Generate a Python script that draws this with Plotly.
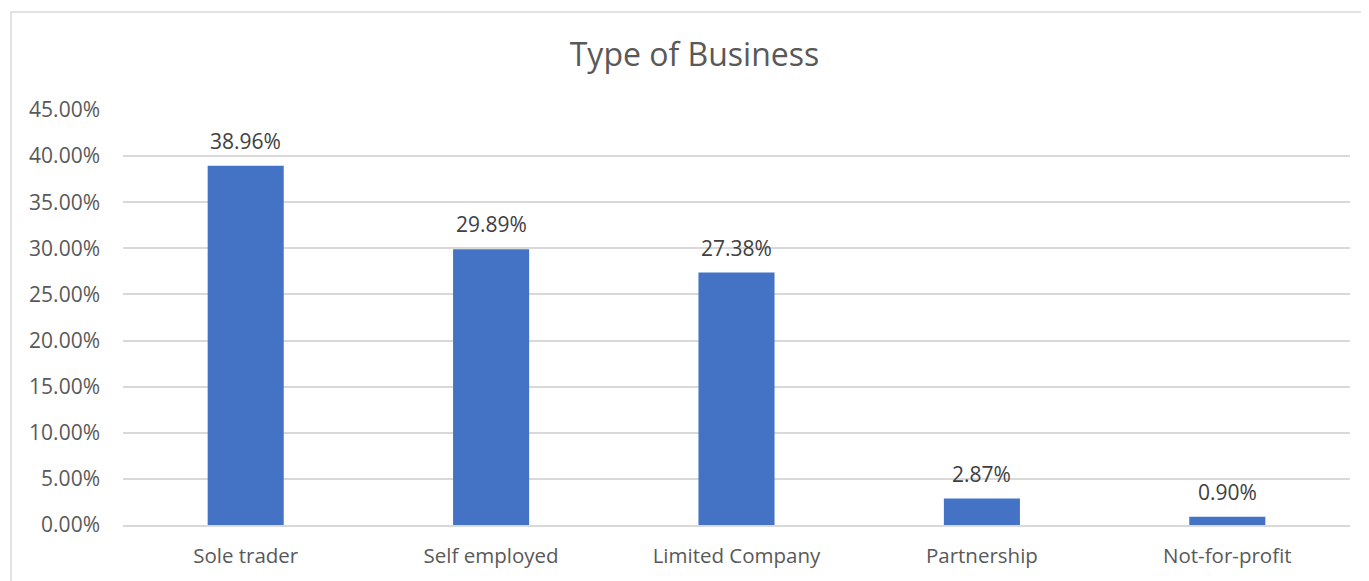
import plotly.graph_objects as go

categories = ["Sole trader", "Self employed", "Limited Company", "Partnership", "Not-for-profit"]
values = [38.96, 29.89, 27.38, 2.87, 0.90]
tick_vals = [0, 5, 10, 15, 20, 25, 30, 35, 40, 45]
tick_text = [f"{v:.2f}%" for v in tick_vals]

OFF = 8  # page body margin
W, H = 1369 - OFF, 581 - OFF
L, R, T, B = 123 - OFF, 19, 110 - OFF, 56
pw, ph = W - L - R, H - T - B

font_family = "Open Sans, Noto Sans, sans-serif"
txt_color = "#595959"

fig = go.Figure()
fig.add_trace(go.Bar(
    x=categories, y=values,
    marker=dict(color="#4472C4", line=dict(width=0)),
    width=0.31,
    hoverinfo="skip",
))

for c, v in zip(categories, values):
    fig.add_annotation(x=c, y=v, text=f"{v:.2f}%", showarrow=False,
                       yanchor="bottom", yshift=9,
                       font=dict(family=font_family, size=21, color="#404040"))

# chart border (cropped on right/bottom)
bx0, by0 = 11 - OFF, 12 - OFF
fig.add_shape(type="rect", xref="paper", yref="paper",
              x0=(bx0 - L) / pw, x1=(W + 20 - L) / pw,
              y0=(H - B - (H + 20)) / ph, y1=(H - B - by0) / ph,
              line=dict(color="#D9D9D9", width=1.5), fillcolor="rgba(0,0,0,0)", layer="below")

fig.update_layout(
    width=W, height=H,
    margin=dict(l=L, r=R, t=T, b=B),
    paper_bgcolor="white", plot_bgcolor="white",
    showlegend=False,
    bargap=0.69,
    title=dict(text="Type of Business", x=(694.5 - OFF) / W, xanchor="center", xref="container",
               y=1 - (55 - OFF) / H, yanchor="middle", yref="container",
               font=dict(family=font_family, size=32, color=txt_color)),
    font=dict(family=font_family, color=txt_color),
)
fig.update_yaxes(range=[0, 45], tickvals=tick_vals, ticktext=tick_text,
                 showgrid=True, gridcolor="#D9D9D9", gridwidth=1.5,
                 zeroline=False, showline=False, ticks="",
                 ticklabelstandoff=22,
                 tickfont=dict(family=font_family, size=21, color=txt_color))
fig.update_xaxes(showgrid=False, showline=True, linecolor="#D9D9D9", linewidth=1.5,
                 ticks="", ticklabelstandoff=12,
                 tickfont=dict(family=font_family, size=20.5, color=txt_color))

fig.write_html("out.html")
